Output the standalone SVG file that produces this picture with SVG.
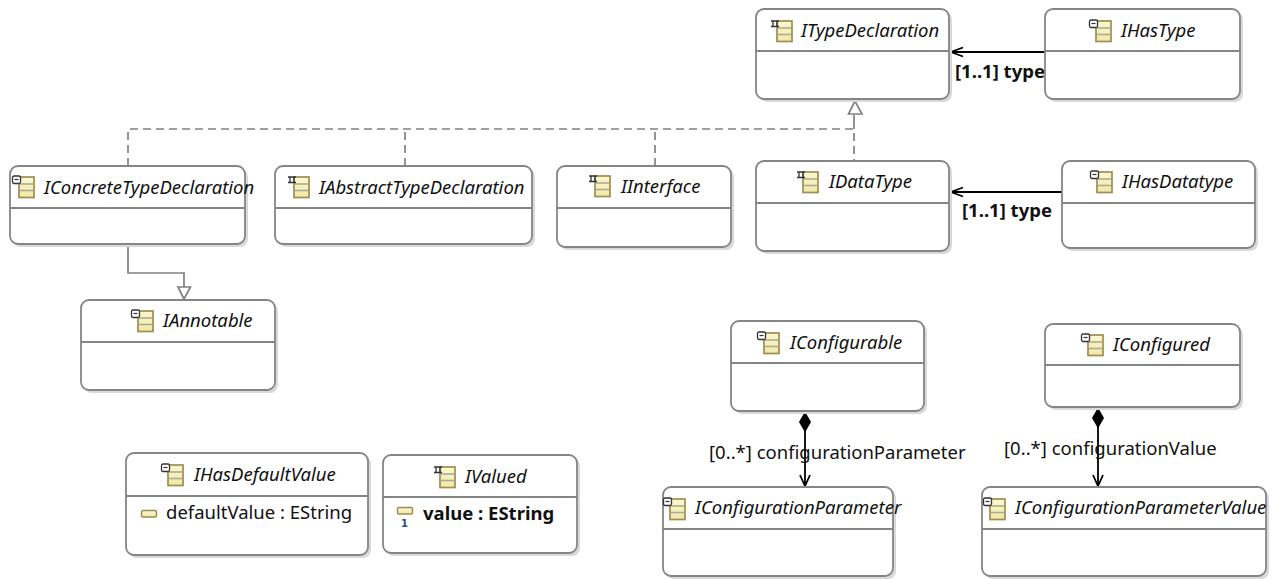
<svg xmlns="http://www.w3.org/2000/svg" width="1273" height="579" viewBox="0 0 1273 579">
<style>
text{font-family:"Noto Sans","DejaVu Sans",sans-serif;font-size:18.500px;fill:#111}
.name{font-style:italic}
.b{font-weight:bold}
.one{font-family:"DejaVu Sans",sans-serif;font-size:10px;font-weight:bold;fill:#2a4a80}
.box{fill:#fff;stroke:#858585;stroke-width:1.800}
.sh{fill:#d9d9d9}
.div{stroke:#858585;stroke-width:1.800}
.gen{fill:none;stroke:#808080;stroke-width:1.700}
.dash{stroke-dasharray:8 5}
.ref{fill:none;stroke:#000;stroke-width:1.800}
</style>
<defs>
<linearGradient id="y" x1="0" y1="0" x2="0" y2="1"><stop offset="0" stop-color="#fbf8d0"/><stop offset="1" stop-color="#efe8a8"/></linearGradient>
<g id="body">
<rect x="6" y="2" width="15" height="20.500" fill="url(#y)" stroke="#a08c50" stroke-width="1.700"/>
<path d="M6.500 9H20.500M6.500 15.500H20.500" stroke="#a8a890" stroke-width="1.700"/>
</g>
<g id="ic">
<use href="#body"/>
<rect x="-0.500" y="1" width="8" height="7.500" rx="1.500" fill="#fff" stroke="#333" stroke-width="1.300"/>
<path d="M1.500 4.500H5.500" stroke="#333" stroke-width="1.200"/>
</g>
<g id="ii">
<use href="#body"/>
<path d="M0 2H8M0 7.500H8M2 2V7.500M6 2V7.500" fill="none" stroke="#333" stroke-width="1.300"/>
</g>
<g id="attr">
<rect x="0.500" y="0.500" width="15" height="6.500" rx="1.500" fill="url(#y)" stroke="#a08c50" stroke-width="1.500"/>
</g>
</defs>
<g id="connectors">
<path class="gen dash" d="M128 166V129H854V161"/>
<path class="gen dash" d="M405 166V129M655 166V129"/>
<path class="gen" d="M854 129V115"/>
<path d="M855 101L848.500 114H862Z" fill="#fff" stroke="#808080" stroke-width="1.700"/>
<path class="gen" d="M128 246V273H184V287"/>
<path d="M184 299L178 287H190.500Z" fill="#fff" stroke="#808080" stroke-width="1.700"/>
<path class="ref" d="M1045 52H951M963 47.500L951 52L963 56.500"/>
<path class="ref" d="M1062 192H951M963 187.500L951 192L963 196.500"/>
<path class="ref" d="M805 430V486M800 475L805 486L810 475"/>
<path d="M805 411.500L811 422L805 432.500L799 422Z" fill="#000"/>
<path class="ref" d="M1098 426V486M1093 475L1098 486L1103 475"/>
<path d="M1098 407.500L1104 418L1098 428.500L1092 418Z" fill="#000"/>
<text class="b" x="955" y="78">[1..1] type</text>
<text class="b" x="962" y="217">[1..1] type</text>
<text x="709" y="459">[0..*] configurationParameter</text>
<text x="1004" y="455">[0..*] configurationValue</text>
</g>
<g id="ITypeDeclaration"><rect class="sh" x="759" y="12" width="193" height="90" rx="8"/><rect class="box" x="756" y="9" width="193" height="90" rx="8"/><path class="div" d="M756 51H949"/><use href="#ii" x="771" y="19"/><text class="name" x="801" y="37">ITypeDeclaration</text></g>
<g id="IHasType"><rect class="sh" x="1048" y="12" width="195" height="90" rx="8"/><rect class="box" x="1045" y="9" width="195" height="90" rx="8"/><path class="div" d="M1045 51H1240"/><use href="#ic" x="1090" y="19"/><text class="name" x="1121" y="37">IHasType</text></g>
<g id="IConcreteTypeDeclaration"><rect class="sh" x="13" y="169" width="235" height="78" rx="8"/><rect class="box" x="10" y="166" width="235" height="78" rx="8"/><path class="div" d="M10 208H245"/><use href="#ic" x="13" y="175"/><text class="name" x="44" y="194">IConcreteTypeDeclaration</text></g>
<g id="IAbstractTypeDeclaration"><rect class="sh" x="278" y="169" width="257" height="78" rx="8"/><rect class="box" x="275" y="166" width="257" height="78" rx="8"/><path class="div" d="M275 208H532"/><use href="#ii" x="288" y="175"/><text class="name" x="319" y="194">IAbstractTypeDeclaration</text></g>
<g id="IInterface"><rect class="sh" x="560" y="169" width="174" height="81" rx="8"/><rect class="box" x="557" y="166" width="174" height="81" rx="8"/><path class="div" d="M557 208H731"/><use href="#ii" x="589" y="174"/><text class="name" x="621" y="193">IInterface</text></g>
<g id="IDataType"><rect class="sh" x="759" y="164" width="193" height="90" rx="8"/><rect class="box" x="756" y="161" width="193" height="90" rx="8"/><path class="div" d="M756 203H949"/><use href="#ii" x="797" y="170"/><text class="name" x="829" y="188">IDataType</text></g>
<g id="IHasDatatype"><rect class="sh" x="1065" y="164" width="193" height="87" rx="8"/><rect class="box" x="1062" y="161" width="193" height="87" rx="8"/><path class="div" d="M1062 203H1255"/><use href="#ic" x="1091" y="170"/><text class="name" x="1122" y="188">IHasDatatype</text></g>
<g id="IAnnotable"><rect class="sh" x="84" y="303" width="194" height="90" rx="8"/><rect class="box" x="81" y="300" width="194" height="90" rx="8"/><path class="div" d="M81 342H275"/><use href="#ic" x="132" y="309"/><text class="name" x="163" y="327">IAnnotable</text></g>
<g id="IConfigurable"><rect class="sh" x="734" y="324" width="193" height="90" rx="8"/><rect class="box" x="731" y="321" width="193" height="90" rx="8"/><path class="div" d="M731 363H924"/><use href="#ic" x="758" y="331"/><text class="name" x="790" y="349">IConfigurable</text></g>
<g id="IConfigured"><rect class="sh" x="1048" y="327" width="195" height="83" rx="8"/><rect class="box" x="1045" y="324" width="195" height="83" rx="8"/><path class="div" d="M1045 365H1240"/><use href="#ic" x="1082" y="333"/><text class="name" x="1113" y="351">IConfigured</text></g>
<g id="IHasDefaultValue"><rect class="sh" x="129" y="456" width="242" height="102" rx="8"/><rect class="box" x="126" y="453" width="242" height="102" rx="8"/><path class="div" d="M126 496H368"/><use href="#ic" x="162" y="463"/><text class="name" x="194" y="481">IHasDefaultValue</text><use href="#attr" x="141" y="510"/><text x="166" y="519">defaultValue : EString</text></g>
<g id="IValued"><rect class="sh" x="386" y="458" width="194" height="98" rx="8"/><rect class="box" x="383" y="455" width="194" height="98" rx="8"/><path class="div" d="M383 497H577"/><use href="#ii" x="434" y="465"/><text class="name" x="465" y="483">IValued</text><use href="#attr" x="397" y="507"/><text class="one" x="401" y="527">1</text><text class="b" x="423" y="520">value : EString</text></g>
<g id="IConfigurationParameter"><rect class="sh" x="666" y="490" width="230" height="89" rx="8"/><rect class="box" x="663" y="487" width="230" height="89" rx="8"/><path class="div" d="M663 529H893"/><use href="#ic" x="664" y="497"/><text class="name" x="695" y="514">IConfigurationParameter</text></g>
<g id="IConfigurationParameterValue"><rect class="sh" x="985" y="490" width="284" height="89" rx="8"/><rect class="box" x="982" y="487" width="284" height="89" rx="8"/><path class="div" d="M982 529H1266"/><use href="#ic" x="984" y="497"/><text class="name" x="1015" y="514">IConfigurationParameterValue</text></g>
</svg>
